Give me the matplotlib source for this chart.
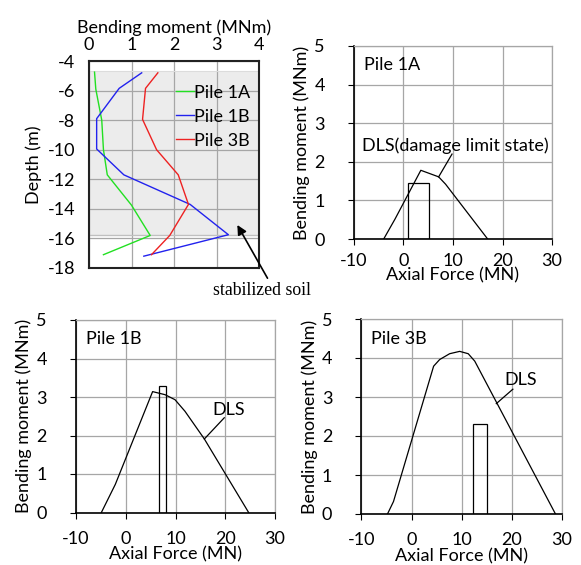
import matplotlib
matplotlib.use("Agg")
import matplotlib.pyplot as plt

plt.rcParams['font.family'] = ['Lato', 'DejaVu Sans']
plt.rcParams['axes.unicode_minus'] = False
FS = 13

# ---------------- data ----------------
# Panel 1: bending moment profiles vs depth
depth_1A = [-4.75, -5.9, -8.0, -10.0, -11.7, -13.75, -15.8, -17.1]
moment_1A = [0.13, 0.16, 0.30, 0.34, 0.43, 1.00, 1.44, 0.34]
depth_1B = [-4.8, -5.85, -7.9, -9.95, -11.7, -13.7, -15.75, -17.2]
moment_1B = [1.24, 0.71, 0.18, 0.18, 0.82, 2.38, 3.28, 1.29]
depth_3B = [-4.8, -5.85, -7.95, -10.0, -11.7, -13.7, -15.8, -17.1]
moment_3B = [1.62, 1.33, 1.26, 1.59, 2.10, 2.34, 1.90, 1.47]
series_names = ['Pile 1A', 'Pile 1B', 'Pile 3B']
soil_top, soil_bottom = -4.7, -15.75

# DLS interaction curves (axial force MN, bending moment MNm)
dls_1A_N = [-4.0, -1.7, 3.5, 7.1, 8.5, 17.0]
dls_1A_M = [0.0, 0.52, 1.78, 1.61, 1.42, 0.0]
dls_1B_N = [-4.9, -2.1, 5.4, 7.9, 9.9, 11.9, 15.8, 24.7]
dls_1B_M = [0.0, 0.73, 3.14, 3.06, 2.93, 2.63, 1.91, 0.0]
dls_3B_N = [-4.8, -3.6, 4.4, 5.6, 7.6, 9.6, 11.3, 12.6, 28.7]
dls_3B_M = [0.0, 0.32, 3.79, 3.96, 4.11, 4.17, 4.11, 3.92, 0.0]

# Load ranges (rectangles): axial force min, max, bending moment
rect_1A = (1.0, 5.25, 1.44)
rect_1B = (6.6, 8.1, 3.29)
rect_3B = (12.3, 15.0, 2.31)

x_ticks_af = [-10, 0, 10, 20, 30]
y_ticks_bm = [0, 1, 2, 3, 4, 5]
depth_ticks = [-4, -6, -8, -10, -12, -14, -16, -18]
moment_ticks = [0, 1, 2, 3, 4]

W, H = 581, 565
fig = plt.figure(figsize=(W / 100, H / 100), dpi=100)
GRID = '#a6a6a6'

def ax_px(l, r, t, b):
    return fig.add_axes([l / W, (H - b) / H, (r - l) / W, (b - t) / H])

# ---------------- Panel 1 ----------------
ax1 = ax_px(89, 259, 61, 268)
ax1.axhspan(soil_bottom, soil_top, color='#ececec', zorder=0, lw=0)
ax1.axhline(soil_bottom, color='#c0c0c0', lw=1.0, zorder=1)
ax1.axhline(soil_top, color='#dcdcdc', lw=0.8, zorder=1)
ax1.plot(moment_1A, depth_1A, color='#22e022', lw=1.0, label=series_names[0])
ax1.plot(moment_1B, depth_1B, color='#2222ee', lw=1.0, label=series_names[1])
ax1.plot(moment_3B, depth_3B, color='#ee2222', lw=1.0, label=series_names[2])
ax1.set_xlim(0, 4)
ax1.set_ylim(-18, -4)
ax1.set_xticks(moment_ticks)
ax1.set_yticks(depth_ticks)
ax1.xaxis.tick_top()
ax1.xaxis.set_label_position('top')
ax1.tick_params(axis='both', length=0, labelsize=FS)
ax1.tick_params(axis='x', pad=6)
ax1.tick_params(axis='y', pad=10)
ax1.set_xlabel('Bending moment (MNm)', fontsize=FS, labelpad=3)
ax1.set_ylabel('Depth (m)', fontsize=FS, labelpad=4)
ax1.grid(True, color=GRID, lw=0.9, zorder=1)
ax1.set_axisbelow(True)
for s in ax1.spines.values():
    s.set_linewidth(1.5)
    s.set_color('#222222')
leg = ax1.legend(loc='upper right', bbox_to_anchor=(1.0, 0.93), frameon=False,
                 fontsize=FS, handlelength=1.0, handletextpad=0.0,
                 labelspacing=0.45, borderaxespad=0.1)
ax1.annotate('', xy=(3.49, -15.09), xytext=(4.2, -18.69), xycoords='data',
             annotation_clip=False,
             arrowprops=dict(arrowstyle='-|>', color='black', lw=1.2,
                             mutation_scale=14, shrinkA=0, shrinkB=0))
ax1.text(4.06, -19.55, 'stabilized soil', family='Liberation Serif',
         fontsize=12.8, ha='center', va='center', clip_on=False)

# ---------------- Panels 2-4 ----------------
def dls_panel(ax, N, M, rect, title, label, text_xy, line_from, line_to,
              xpad, xlabelpad):
    ax.plot(N, M, color='black', lw=0.9, zorder=3)
    ax.bar(rect[0], rect[2], width=rect[1] - rect[0], align='edge',
           fill=False, edgecolor='black', lw=0.9, zorder=3)
    ax.set_xlim(-10, 30)
    ax.set_ylim(0, 5)
    ax.set_xticks(x_ticks_af)
    ax.set_yticks(y_ticks_bm)
    ax.grid(True, color=GRID, lw=0.9)
    ax.set_axisbelow(True)
    for side in ('top', 'right'):
        ax.spines[side].set_color(GRID)
        ax.spines[side].set_linewidth(0.9)
    for side in ('left', 'bottom'):
        ax.spines[side].set_color('black')
        ax.spines[side].set_linewidth(1.2)
    ax.tick_params(axis='both', length=4, direction='out', labelsize=FS,
                   color='black')
    ax.tick_params(axis='y', pad=17)
    ax.tick_params(axis='x', pad=xpad)
    ax.set_xlabel('Axial Force (MN)', fontsize=FS, labelpad=xlabelpad)
    ax.set_ylabel('Bending moment (MNm)', fontsize=FS, labelpad=3)
    ax.text(0.05, 0.9, title, transform=ax.transAxes, fontsize=FS,
            ha='left', va='center')
    ax.plot([line_from[0], line_to[0]], [line_from[1], line_to[1]],
            color='black', lw=0.9)
    ax.text(text_xy[0], text_xy[1], label, fontsize=FS, ha='center',
            va='center')

ax2 = ax_px(354, 552, 46, 239)
dls_panel(ax2, dls_1A_N, dls_1A_M, rect_1A, 'Pile 1A',
          'DLS(damage limit state)', (10.4, 2.41), (7.1, 1.61), (9.8, 2.2),
          xpad=6, xlabelpad=-1)

ax3 = ax_px(76, 275, 320, 512.5)
dls_panel(ax3, dls_1B_N, dls_1B_M, rect_1B, 'Pile 1B',
          'DLS', (20.7, 2.66), (15.8, 1.91), (19.8, 2.46),
          xpad=9, xlabelpad=0)

ax4 = ax_px(361.4, 562, 319, 514)
dls_panel(ax4, dls_3B_N, dls_3B_M, rect_3B, 'Pile 3B',
          'DLS', (21.8, 3.44), (16.9, 2.83), (20.2, 3.2),
          xpad=9, xlabelpad=0)

fig.savefig('out.png', dpi=100)
